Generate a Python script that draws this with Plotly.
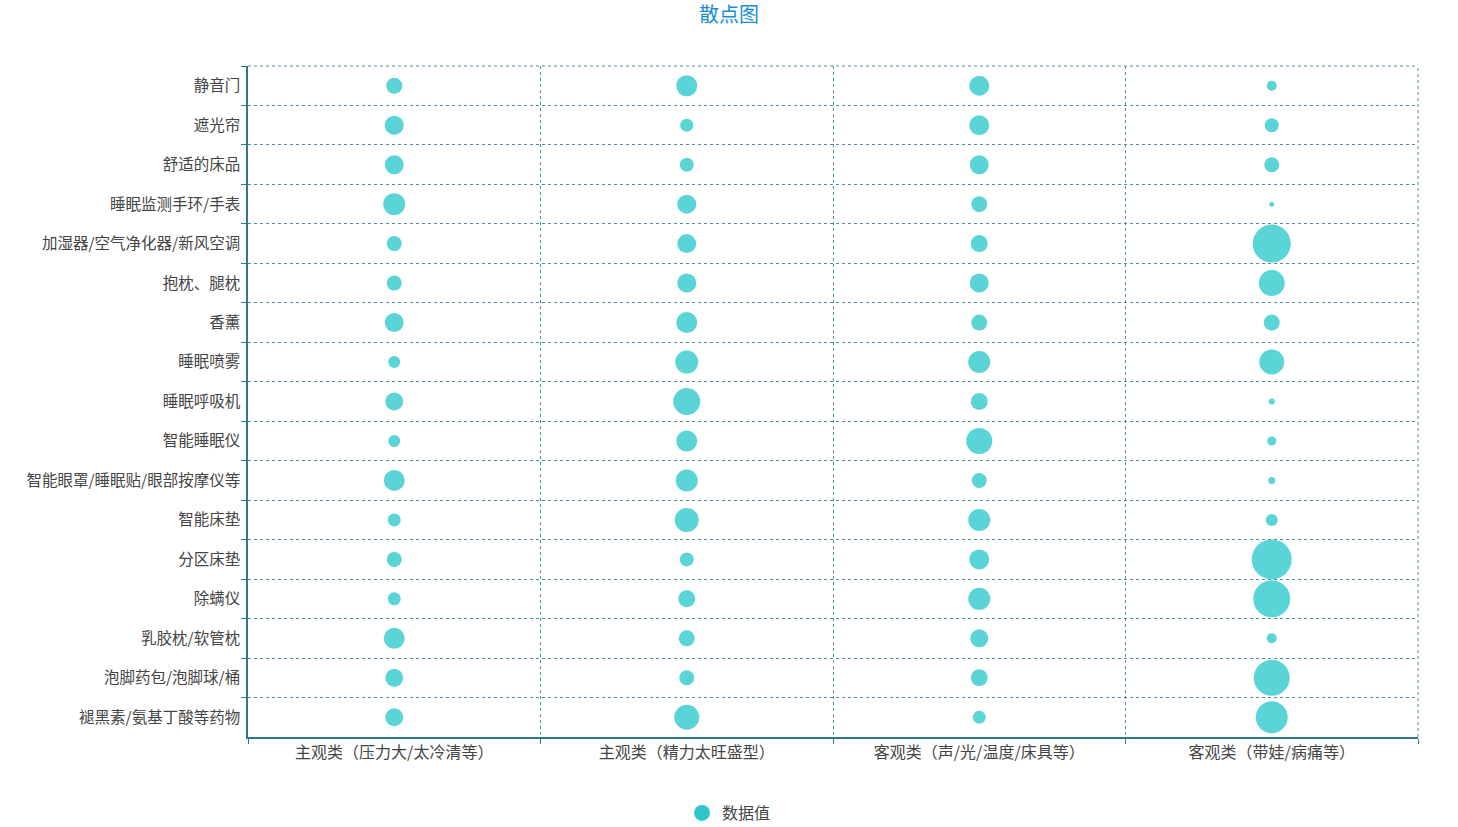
import plotly.graph_objects as go

title_text = "散点图"
x_categories = ["主观类（压力大/太冷清等）", "主观类（精力太旺盛型）",
                "客观类（声/光/温度/床具等）", "客观类（带娃/病痛等）"]
y_categories = ["静音门", "遮光帘", "舒适的床品", "睡眠监测手环/手表",
                "加湿器/空气净化器/新风空调", "抱枕、腿枕", "香薰", "睡眠喷雾",
                "睡眠呼吸机", "智能睡眠仪", "智能眼罩/睡眠贴/眼部按摩仪等",
                "智能床垫", "分区床垫", "除螨仪", "乳胶枕/软管枕",
                "泡脚药包/泡脚球/桶", "褪黑素/氨基丁酸等药物"]

# bubble values per column (one per y category)
values_col1 = [16, 19, 19, 22, 15, 15, 19, 12, 18, 12, 21, 13, 15, 13, 21, 18, 18]
values_col2 = [21, 13, 14, 19, 19, 19, 21, 23, 27, 21, 22, 24, 14, 17, 16, 15, 25]
values_col3 = [20, 20, 19, 16, 17, 19, 16, 22, 17, 26, 15, 22, 20, 22, 18, 17, 13]
values_col4 = [10, 14, 15, 5, 38, 26, 16, 25, 6, 9, 7, 12, 40, 37, 10, 36, 32]
series_name = "数据值"

columns = [values_col1, values_col2, values_col3, values_col4]
xs, ys, sizes = [], [], []
for xi, col in enumerate(columns):
    for yi, v in enumerate(col):
        xs.append(x_categories[xi])
        ys.append(y_categories[yi])
        sizes.append(v)

font_family = "Noto Sans CJK SC"
axis_color = "#2b7a85"
grid_color = "#4a939c"
label_color = "#444444"
W, H = 1458, 827
L, R, T, B = 248, 40, 66, 90

fig = go.Figure()
fig.add_trace(go.Scatter(
    x=xs, y=ys, mode="markers", showlegend=False,
    marker=dict(size=sizes, sizemode="diameter", sizeref=1, opacity=1,
                color="#5bd4d8", line=dict(width=0)),
    hovertemplate="%{y}<br>%{x}<extra></extra>",
))
fig.add_trace(go.Scatter(
    x=[None], y=[None], mode="markers", name=series_name,
    marker=dict(size=16, color="#2ec7c9", opacity=1, line=dict(width=0)),
))

plot_w = W - L - R
plot_h = H - T - B
fig.update_layout(
    width=W, height=H,
    margin=dict(l=L, r=R, t=T, b=B, autoexpand=False),
    paper_bgcolor="white", plot_bgcolor="white",
    font=dict(family=font_family, size=15, color=label_color),
    title=dict(text=title_text, x=0.5, xanchor="center", y=1 - 15 / H,
               yanchor="middle",
               font=dict(size=20, color="#1a8ed4", family=font_family)),
    legend=dict(orientation="h", x=(W / 2 - L) / plot_w, xanchor="center",
                y=-(813 - (H - B)) / plot_h, yanchor="middle",
                font=dict(size=16, color=label_color),
                itemsizing="trace"),
    shapes=[
        dict(type="line", xref="paper", yref="paper", x0=0, x1=1, y0=1, y1=1,
             line=dict(color=grid_color, width=1, dash="dot")),
        dict(type="line", xref="paper", yref="paper", x0=1, x1=1, y0=0, y1=1,
             line=dict(color=grid_color, width=1, dash="dot")),
    ],
)
fig.update_xaxes(
    type="category", categoryorder="array", categoryarray=x_categories,
    range=[-0.5, len(x_categories) - 0.5],
    tickson="boundaries", ticks="outside", ticklen=5, tickcolor=axis_color,
    showline=True, linecolor=axis_color, linewidth=1.5,
    showgrid=True, gridcolor=grid_color, griddash="dot", gridwidth=1,
    zeroline=False, tickfont=dict(size=16, color=label_color),
)
fig.update_yaxes(
    type="category", categoryorder="array", categoryarray=y_categories,
    range=[len(y_categories) - 0.5, -0.5],
    tickson="boundaries", ticks="outside", ticklen=5, tickcolor=axis_color,
    showline=True, linecolor=axis_color, linewidth=1.5,
    showgrid=True, gridcolor=grid_color, griddash="dot", gridwidth=1,
    zeroline=False, tickfont=dict(size=15.5, color=label_color),
    ticklabelstandoff=3,
)

fig.write_html("out.html")
